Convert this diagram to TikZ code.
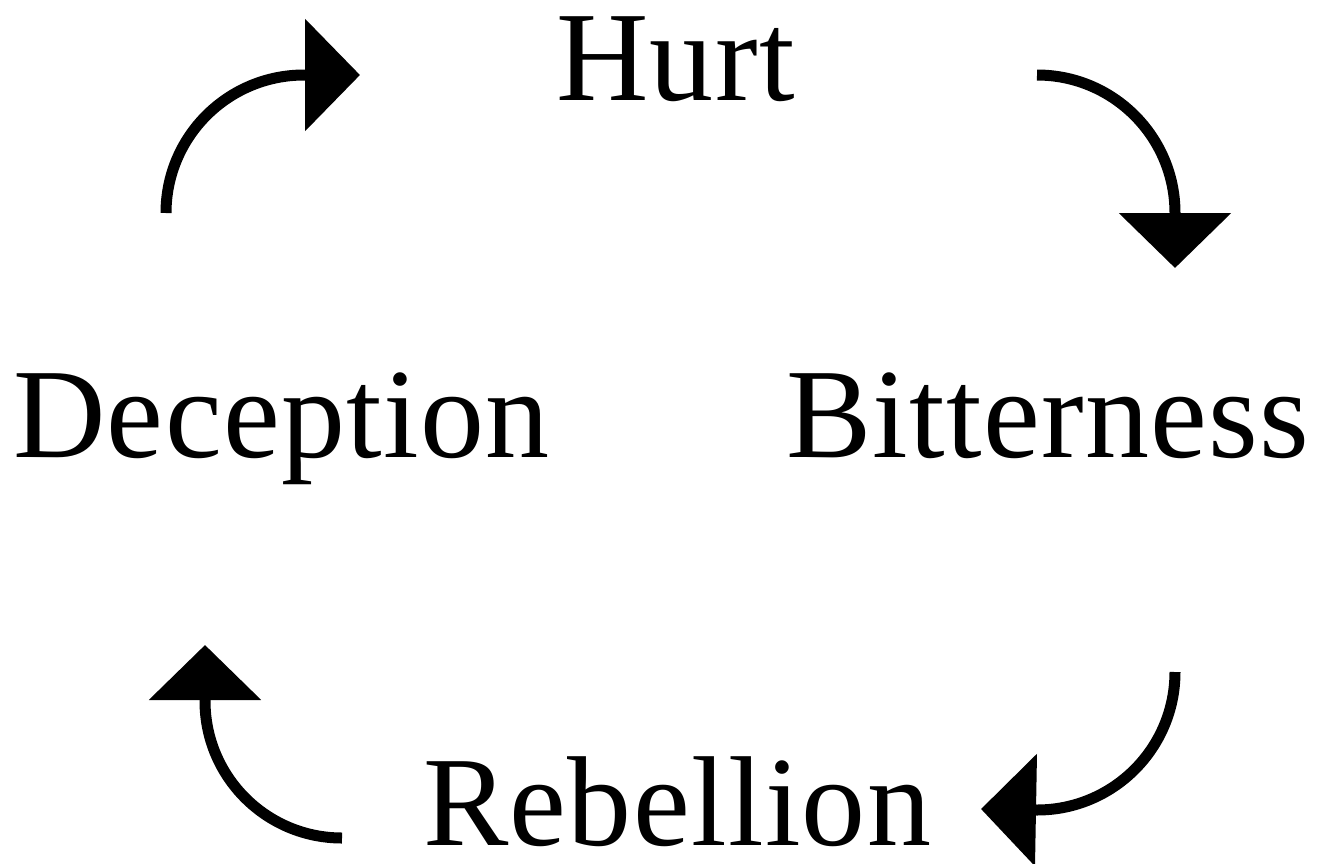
\documentclass[tikz,border=0pt]{standalone}
\usepackage{fontspec}
\setmainfont{Liberation Serif}[LetterSpace=1.0]
\usetikzlibrary{arrows.meta}
\begin{document}
\begin{tikzpicture}[x=1pt,y=-1pt,
  word/.style={anchor=base west,inner sep=0pt,text depth=0pt,font=\fontsize{128}{140}\selectfont},
  cyc/.style={line width=11pt,-{Triangle[length=55pt 0 0,width=110pt 0 0]}}]
\useasboundingbox (0,0) rectangle (1318,863);
\node[word] (hurt) at (556,100) {Hurt};
\node[word] (dec) at (13,457) {Deception};
\node[word] (bit) at (786,457) {Bitterness};
\node[word] (reb) at (423,845) {Rebellion};
% arrow coordinates
\coordinate (a1s) at (166,213);
\coordinate (a1e) at (360,75);
\coordinate (a2s) at (1037,75);
\coordinate (a2e) at (1175,268);
\coordinate (a3s) at (1175,672);
\coordinate (a3e) at (981,809);
\coordinate (a4s) at (342,838);
\coordinate (a4e) at (205,645);
\draw[cyc] (a1s) arc[start angle=180,end angle=90,x radius=138,y radius=-138] -- (a1e);
\draw[cyc] (a2s) arc[start angle=90,end angle=0,x radius=138,y radius=-138] -- (a2e);
\draw[cyc] (a3s) arc[start angle=0,end angle=-90,x radius=138,y radius=-138] -- (a3e);
\draw[cyc] (a4s) arc[start angle=-90,end angle=-180,x radius=137,y radius=-137] -- (a4e);
\end{tikzpicture}
\end{document}
